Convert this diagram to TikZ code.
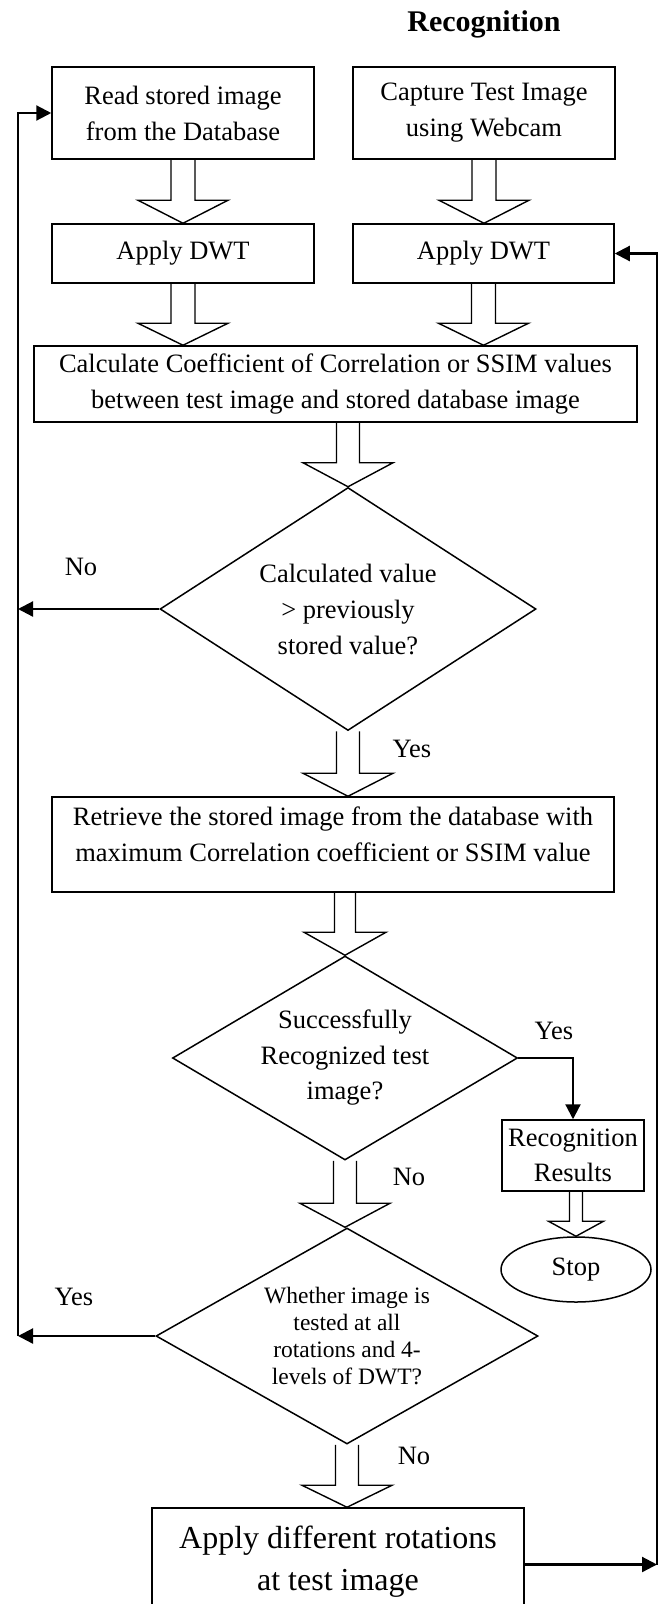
\documentclass[tikz,border=0pt]{standalone}
\usepackage{fontspec}
\setmainfont{Liberation Serif}
\usetikzlibrary{arrows.meta,shapes.geometric,calc}
\newcommand\blockarr[6]{% #1 from, #2 to, #3 shaft half, #4 head half, #5 head len, #6 dummy
  \draw[barrow] let \p1=(#1), \p2=(#2) in
    (\x1-#3,\y1) -- (\x1-#3,\y2+#5) -- (\x1-#4,\y2+#5) -- (\x1,\y2) --
    (\x1+#4,\y2+#5) -- (\x1+#3,\y2+#5) -- (\x1+#3,\y1);}
\begin{document}
\begin{tikzpicture}[x=1pt,y=-1pt,
  body/.style={font=\fontsize{26.5}{36}\selectfont},
  box/.style={draw,line width=1.5pt,align=center,inner sep=0pt,body},
  dia/.style={draw,diamond,line width=1.5pt,inner sep=0pt},
  conn/.style={line width=2.2pt,-{Triangle[length=15pt,width=15pt]}},
  barrow/.style={line width=1.4pt,line join=miter},
  lbl/.style={body,inner sep=0pt}]
\useasboundingbox (0,0) rectangle (664,1604);
% title
\node[anchor=base,font=\fontsize{30}{36}\selectfont\bfseries] (title) at (484,31) {Recognition};
% boxes
\node[box,minimum width=262,minimum height=92] (read) at (183,113) {Read stored image\\from the Database};
\node[box,minimum width=262,minimum height=92] (cap) at (484,113) {Capture Test Image\\using Webcam};
\node[box,minimum width=262,minimum height=59] (applyL) at (183,253.5) {Apply DWT};
\node[box,minimum width=261,minimum height=59] (applyR) at (483.5,253.5) {Apply DWT};
\node[box,minimum width=603,minimum height=76] (calc) at (335.5,384) {Calculate Coefficient of Correlation or SSIM values\\between test image and stored database image};
\node[dia,minimum width=376,minimum height=243,
  label={[body,align=center]center:Calculated value\\> previously\\stored value?}] (d1) at (348,609) {};
\node[box,minimum width=562,minimum height=95,
  label={[body,align=center,yshift=10pt]center:Retrieve the stored image from the database with\\maximum Correlation coefficient or SSIM value}] (ret) at (333,844.5) {};
\node[dia,minimum width=345,minimum height=204,
  label={[font=\fontsize{26.5}{35.5}\selectfont,align=center]center:Successfully\\Recognized test\\image?}] (d2) at (345,1058) {};
\node[box,minimum width=142,minimum height=71,font=\fontsize{26.5}{35}\selectfont] (rr) at (573,1155.5) {Recognition\\Results};
\node[draw,ellipse,line width=1.5pt,minimum width=150,minimum height=65,inner sep=0pt,body] (stop) at (576,1269.5) {Stop};
\node[dia,minimum width=382,minimum height=216,
  label={[font=\fontsize{23.5}{27}\selectfont,align=center]center:Whether image is\\tested at all\\rotations and 4-\\levels of DWT?}] (d3) at (347,1336) {};
\node[box,minimum width=372,minimum height=107,
  label={[font=\fontsize{32}{42}\selectfont,align=center]center:Apply different rotations\\at test image}] (rot) at (338,1561.5) {};
% side coordinates
\coordinate (lx) at (18,0);
\coordinate (rx) at (657,0);
% labels
\node[lbl] (no1) at (81,567) {No};
\node[lbl] (yes1) at (412,749) {Yes};
\node[lbl] (yes2) at (554,1031) {Yes};
\node[lbl] (no2) at (409,1177) {No};
\node[lbl] (yes3) at (74,1297) {Yes};
\node[lbl] (no3) at (414,1456) {No};
% block arrows
\blockarr{read.south}{read.south |- applyL.north}{12pt}{45pt}{23pt}{}
\blockarr{cap.south}{cap.south |- applyR.north}{12pt}{45pt}{23pt}{}
\blockarr{applyL.south}{applyL.south |- calc.north}{12pt}{45pt}{22pt}{}
\blockarr{applyR.south}{applyR.south |- calc.north}{12pt}{45pt}{22pt}{}
\blockarr{d1.north |- calc.south}{d1.north}{11.5pt}{45pt}{24pt}{}
\blockarr{d1.south}{d1.south |- ret.north}{11.5pt}{45pt}{23pt}{}
\blockarr{d2.north |- ret.south}{d2.north}{10.5pt}{41pt}{23pt}{}
\blockarr{stop.north |- rr.south}{stop.north}{6.5pt}{27.5pt}{15pt}{}
\blockarr{d2.south}{d2.south |- d3.north}{11.5pt}{45pt}{24pt}{}
\blockarr{d3.south}{d3.south |- rot.north}{11.5pt}{45pt}{22pt}{}
% connectors
\draw[conn] (d1.west) -- (d1.west -| lx);
\draw[conn] (d3.west) -- (d3.west -| lx);
\draw[conn] (d3.west -| lx) -- (read.west -| lx) -- (read.west);
\draw[conn] (d2.east) -- (d2.east -| rr.north) -- (rr.north);
\draw[conn] ([yshift=-3pt]rot.east) -- ([yshift=-3pt]rot.east -| rx);
\draw[conn] ([yshift=-3pt]rot.east -| rx) -- (applyR.east -| rx) -- (applyR.east);
\end{tikzpicture}
\end{document}
